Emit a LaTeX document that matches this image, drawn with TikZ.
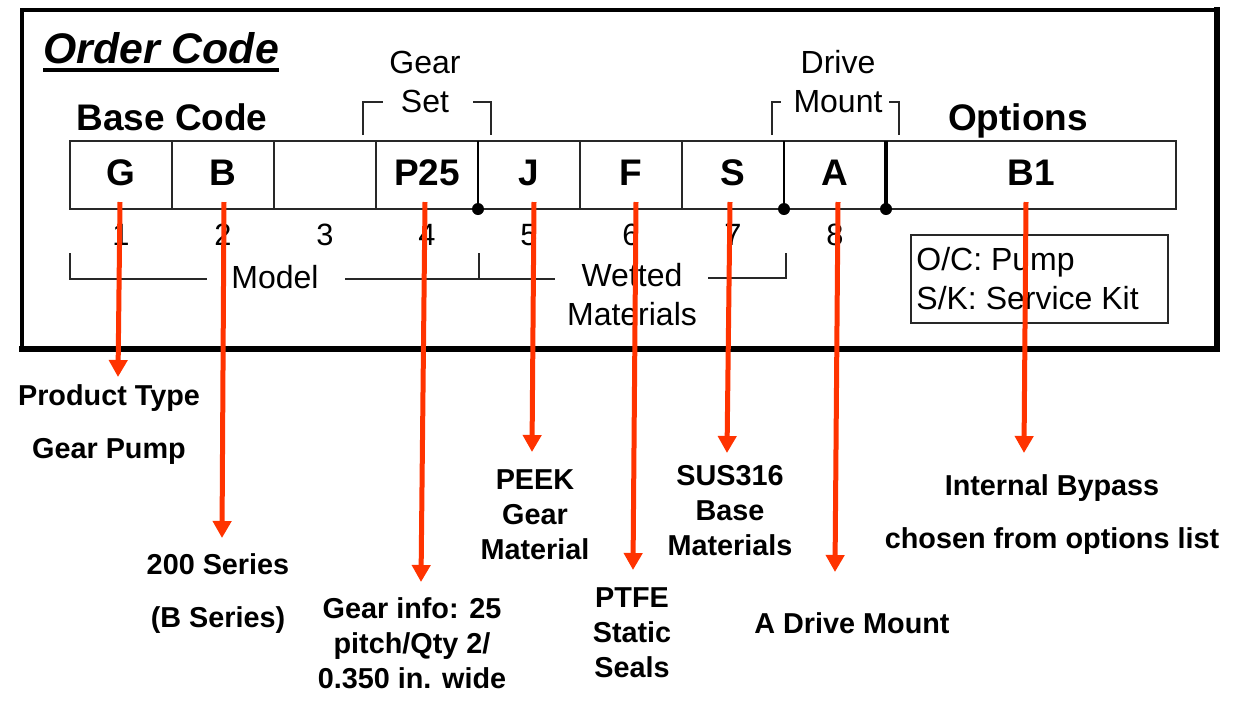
\documentclass[tikz,border=0pt]{standalone}
\usepackage{fontspec}
\setmainfont{Liberation Sans}
\usetikzlibrary{positioning}
\usetikzlibrary{arrows.meta}
\definecolor{arrowred}{RGB}{255,51,0}
\definecolor{rule}{RGB}{40,40,40}

\tikzset{
    title/.style={font=\bfseries\itshape\fontsize{21.4}{24}\selectfont, inner sep=0pt, anchor=base west},
    heading/.style={font=\bfseries\fontsize{18.5}{20}\selectfont, anchor=base},
    code/.style={font=\bfseries\fontsize{18.5}{20}\selectfont, anchor=base},
    digit/.style={font=\fontsize{15.4}{17}\selectfont, anchor=base},
    group/.style={font=\fontsize{16}{19.5}\selectfont, anchor=base, align=center, inner sep=0pt},
    result/.style={font=\bfseries\fontsize{14.4}{17.5}\selectfont, anchor=base, align=center, inner sep=0pt},
    resultwide/.style={font=\bfseries\fontsize{14.4}{26.5}\selectfont, anchor=base, align=center, inner sep=0pt},
    thin/.style={draw=rule, line width=0.9pt},
    pointer/.style={draw=arrowred, line width=2.5pt, -{Triangle[width=9pt, length=8.5pt]}},
}

\begin{document}
\begin{tikzpicture}[x=0.5pt, y=-0.5pt]
    \useasboundingbox (0,0) rectangle (1238,714);

    % outer frame
    \draw[line width=2.4pt] (1217,10) -- (22,10) -- (22,349);
    \draw[line width=3.3pt, line cap=rect] (22,349) -- (1217,349) -- (1217,10);

    \node[title] (ordercode) at (43,63) {Order Code};
    \draw[line width=2pt] ([yshift=-3.5pt]ordercode.base west) -- ([yshift=-3.5pt]ordercode.base east);

    \node[heading] (basecode) at (172,130) {Base Code};
    \node[heading] (options) at (1018,130) {Options};

    % code table
    \draw[thin] (70,141) -- (1176,141) -- (1176,209) -- (70,209) -- cycle;
    \foreach \x in {172, 274, 376, 580, 682} {
        \draw[thin] (\x,141) -- (\x,209);
    }
    \draw[line width=1.3pt] (478,141) -- (478,209);
    \draw[line width=1.3pt] (784,141) -- (784,209);
    \draw[line width=2.2pt] (886,141) -- (886,209);
    \fill (478,209) circle (3pt);
    \fill (784,209) circle (3pt);
    \fill (886,209) circle (3pt);

    \foreach \i/\t in {1/G, 2/B, 4/P25, 5/J, 6/F, 7/S, 8/A} {
        \node[code] (c\i) at (19+102*\i,185) {\t};
    }
    \node[code] (c9) at (1031,185) {B1};

    \foreach \i in {1,...,8} {
        \node[digit] (n\i) at (19+102*\i,245) {\i};
    }

    % gear set / drive mount
    \node[group] (gearset) at (425,112) {Gear\\Set};
    \draw[thin] (363,135) -- (363,102) -- (383,102);
    \draw[thin] (473,102) -- (491,102) -- (491,135);
    \node[group] (drivemount) at (838,112) {Drive\\Mount};
    \draw[thin] (772,135) -- (772,102) -- (781,102);
    \draw[thin] (889,102) -- (899,102) -- (899,135);

    % model / wetted materials
    \node[group] (model) at (275,288) {Model};
    \node[group] (wetted) at (632,325) {Wetted\\Materials};
    \draw[thin] (70,253) -- (70,279) -- (207,279);
    \draw[thin] (345,279) -- (555,279);
    \draw[thin] (479,253) -- (479,279);
    \draw[thin] (708,278) -- (786,278) -- (786,253);

    % options list
    \draw[line width=1.1pt, draw=rule] (911,235) rectangle (1168,323);
    \node[group, anchor=base west, align=left] (optlist) at (916,309) {O/C: Pump\\S/K: Service Kit};

    % meanings
    \node[resultwide] (type) at (109,458) {Product Type\\Gear Pump};
    \node[resultwide] (series) at (218,627) {200 Series\\(B Series)};
    \node[result] (gearinfo) at (412,688) {Gear info: 25\\pitch/Qty 2/\\0.350 in. wide};
    \node[result] (peek) at (535,559) {PEEK\\Gear\\Material};
    \node[result] (ptfe) at (632,677) {PTFE\\Static\\Seals};
    \node[result] (sus) at (730,555) {SUS316\\Base\\Materials};
    \node[result] (mount) at (852,633) {A Drive Mount};
    \node[resultwide] (bypass) at (1052,548) {Internal Bypass\\chosen from options list};

    \foreach \n/\xa/\xb/\yb in {1/120/118/377, 2/224/222/538, 3/425/421/582, 4/534/532/452,
                                5/636/633/570, 6/730/727/453, 7/838/835/572, 8/1026/1024/453} {
        \coordinate (s\n) at (\xa,202);
        \coordinate (e\n) at (\xb,\yb);
        \draw[pointer] (s\n) -- (e\n);
    }
\end{tikzpicture}
\end{document}
